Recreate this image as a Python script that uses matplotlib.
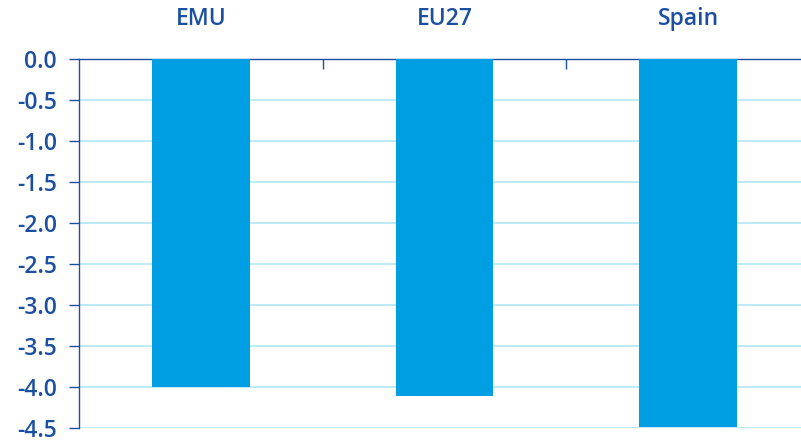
import matplotlib
matplotlib.use("Agg")
import matplotlib.pyplot as plt
from matplotlib.ticker import FixedLocator

categories = ["EMU", "EU27", "Spain"]
values = [-4.0, -4.11, -4.49]
yticks = [0.0, -0.5, -1.0, -1.5, -2.0, -2.5, -3.0, -3.5, -4.0, -4.5]

bar_color = "#009FE3"
text_color = "#1A4FA2"
grid_color = "#B5E6F8"

plt.rcParams['font.family'] = ['Open Sans', 'DejaVu Sans']
plt.rcParams['font.weight'] = 'semibold'

fig = plt.figure(figsize=(8.01, 4.42), dpi=100)
ax = fig.add_axes([79/801, 1 - 428/442, 731/801, (428 - 59)/442])

x = list(range(len(categories)))
ax.bar(x, values, width=0.4, color=bar_color, zorder=3)

ax.set_xlim(-0.5, len(categories) - 0.5)
ax.set_ylim(-4.5, 0.0)
ax.set_yticks(yticks)
ax.set_yticklabels([f"{v:.1f}" for v in yticks])
ax.yaxis.grid(True, color=grid_color, linewidth=1.2, zorder=0)
ax.set_axisbelow(True)

ax.xaxis.set_ticks_position('top')
ax.set_xticks(x)
ax.set_xticklabels(categories)
ax.tick_params(axis='x', which='major', length=0, pad=20, labelsize=16.5, labelcolor=text_color)
ax.xaxis.set_minor_locator(FixedLocator([0.5, 1.5]))
ax.tick_params(axis='x', which='minor', direction='in', length=7, color=text_color, width=1, top=True, bottom=False)

ax.tick_params(axis='y', direction='out', length=7, color=text_color, width=1, pad=9, labelsize=16.5, labelcolor=text_color)

for s in ['right', 'bottom']:
    ax.spines[s].set_visible(False)
for s in ['left', 'top']:
    ax.spines[s].set_color(text_color)
    ax.spines[s].set_linewidth(1)

fig.savefig("out.png", dpi=100)
